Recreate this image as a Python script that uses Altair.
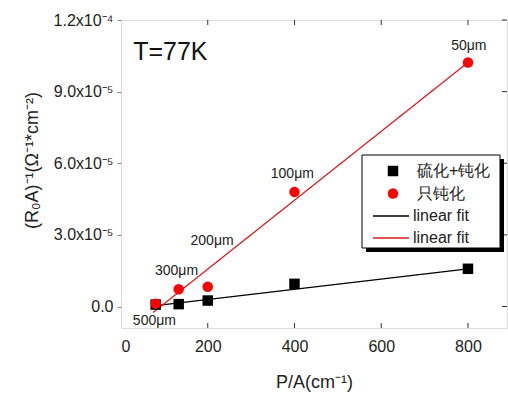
import altair as alt
import pandas as pd

# ---- data ----
point_names = ["硫化+钝化", "只钝化"]
point_colors = ["#000000", "#ff0000"]
point_shapes = ["square", "circle"]
fit_label_black = "linear fit"
fit_label_red = "linear fit "
fit_black_color = "#000000"
fit_red_color = "#d81e1e"

sq_x = [80, 133, 200, 400, 800]
sq_y = [0.08e-5, 0.1e-5, 0.25e-5, 0.95e-5, 1.58e-5]
ci_x = [80, 133, 200, 400, 800]
ci_y = [0.12e-5, 0.72e-5, 0.83e-5, 4.8e-5, 10.22e-5]

fit_black_x = [80, 800]
fit_black_y = [0.04e-5, 1.58e-5]
fit_red_x = [74, 800]
fit_red_y = [-0.25e-5, 10.22e-5]

lab_text = ["50μm", "100μm", "200μm", "300μm", "500μm"]
lab_x = [802, 395, 210, 128, 77]
lab_y = [10.9e-5, 5.54e-5, 2.75e-5, 1.5e-5, -0.6e-5]

x_ticks = [0, 200, 400, 600, 800]
y_ticks = [0.0, 3.0e-5, 6.0e-5, 9.0e-5, 1.2e-4]
y_tick_labels = ["0.0", "3.0x10⁻⁵", "6.0x10⁻⁵", "9.0x10⁻⁵", "1.2x10⁻⁴"]

x_domain = [0, 890]
y_domain = [-0.9e-5, 1.2e-4]

W, H = 386, 308
FONT = "Liberation Sans"

pts = pd.DataFrame({
    "x": sq_x + ci_x,
    "y": sq_y + ci_y,
    "series": [point_names[0]] * len(sq_x) + [point_names[1]] * len(ci_x),
})
fit_black = pd.DataFrame({"x": fit_black_x, "y": fit_black_y, "fitA": [fit_label_black] * 2})
fit_red = pd.DataFrame({"x": fit_red_x, "y": fit_red_y, "fitB": [fit_label_red] * 2})
labs = pd.DataFrame({"x": lab_x, "y": lab_y, "t": lab_text})
xt = pd.DataFrame({"v": x_ticks[1:]})
yt = pd.DataFrame({"v": y_ticks})

label_expr = " : ".join(
    f"abs(datum.value - {v}) < 1e-9 ? '{l}'" for v, l in zip(y_ticks, y_tick_labels)
) + " : ''"

xs = alt.Scale(domain=x_domain, nice=False, zero=False)
ys = alt.Scale(domain=y_domain, nice=False, zero=False)

X = alt.X("x:Q", scale=xs, axis=alt.Axis(
    values=x_ticks, title="P/A(cm⁻¹)", tickSize=0, labelPadding=10,
    labelFontSize=16, titleFontSize=18, titlePadding=19, grid=False,
    domain=False, labelColor="#222", titleColor="#222", titleFontWeight="normal",
    labelFont=FONT, titleFont=FONT))
Y = alt.Y("y:Q", scale=ys, axis=alt.Axis(
    values=y_ticks, labelExpr=label_expr, title="(R₀A)⁻¹(Ω⁻¹*cm⁻²)",
    tickSize=4, labelPadding=4, labelFontSize=16, titleFontSize=18, grid=False,
    domain=False, labelColor="#222", titleColor="#222", titleFontWeight="normal",
    titleX=-80, titleY=H / 2 - 14, labelFont=FONT, titleFont=FONT))

# legend for the measured points
leg_pts = alt.Legend(title=None, orient="none", legendX=264, legendY=143,
                     padding=0, labelFont=FONT, labelFontSize=16, labelColor="#222",
                     labelOffset=16, rowPadding=6.5, symbolSize=110)
# legends for the two fit lines
leg_fitA = alt.Legend(title=None, orient="none", legendX=251, legendY=177,
                      padding=0, labelFont=FONT, labelFontSize=16, labelColor="#222",
                      labelOffset=3, symbolType="stroke", symbolSize=1300,
                      symbolStrokeWidth=1.3, symbolStrokeColor=fit_black_color)
leg_fitB = alt.Legend(title=None, orient="none", legendX=251, legendY=199,
                      padding=0, labelFont=FONT, labelFontSize=16, labelColor="#222",
                      labelOffset=3, symbolType="stroke", symbolSize=1300,
                      symbolStrokeWidth=1.3, symbolStrokeColor=fit_red_color)

fitA_layer = alt.Chart(fit_black).mark_line(strokeWidth=1.3).encode(
    x=X, y=Y,
    stroke=alt.Stroke("fitA:N", scale=alt.Scale(domain=[fit_label_black], range=[fit_black_color]),
                      legend=leg_fitA))
fitB_layer = alt.Chart(fit_red).mark_line(strokeWidth=1.3, color=fit_red_color).encode(
    x=X, y=Y,
    strokeDash=alt.StrokeDash("fitB:N", scale=alt.Scale(domain=[fit_label_red], range=[[1, 0]]),
                              legend=leg_fitB))

pt_layer = alt.Chart(pts).mark_point(filled=True, opacity=1, size=110).encode(
    x=X, y=Y,
    color=alt.Color("series:N", scale=alt.Scale(domain=point_names, range=point_colors), legend=leg_pts),
    shape=alt.Shape("series:N", scale=alt.Scale(domain=point_names, range=point_shapes), legend=leg_pts))

lab_layer = alt.Chart(labs).mark_text(fontSize=14, font=FONT, color="#222").encode(
    x=X, y=Y, text="t:N")

temp_layer = alt.Chart(pd.DataFrame({"x": [28], "y": [10.67e-5], "t": ["T=77K"]})).mark_text(
    fontSize=25, font=FONT, color="#111", align="left").encode(x=X, y=Y, text="t:N")

xtick_bot = alt.Chart(xt).mark_rule(color="#333").encode(
    x=alt.X("v:Q", scale=xs), y=alt.value(H), y2=alt.value(H - 5))
xtick_top = alt.Chart(xt).mark_rule(color="#333").encode(
    x=alt.X("v:Q", scale=xs), y=alt.value(0), y2=alt.value(5))
ytick_right = alt.Chart(yt).mark_rule(color="#333").encode(
    y=alt.Y("v:Q", scale=ys), x=alt.value(W), x2=alt.value(W - 5))

# legend frame with drop shadow
one = pd.DataFrame({"a": [0]})
shadow = alt.Chart(one).mark_rect(color="black").encode(
    x=alt.value(245), x2=alt.value(383), y=alt.value(139), y2=alt.value(232))
frame = alt.Chart(one).mark_rect(fill="white", stroke="black", strokeWidth=1).encode(
    x=alt.value(241), x2=alt.value(379), y=alt.value(135), y2=alt.value(228))

chart = alt.layer(
    xtick_bot, xtick_top, ytick_right, fitA_layer, fitB_layer, pt_layer, lab_layer,
    temp_layer, shadow, frame
).resolve_scale(x="shared", y="shared").properties(
    width=W, height=H,
    autosize=alt.AutoSizeParams(type="none"),
    padding={"left": 121, "top": 20, "right": 1, "bottom": 67},
).configure_view(stroke="#333", strokeWidth=1.2).configure(background="white")

chart.save("out.html", embed_options={"renderer": "svg", "actions": False})
